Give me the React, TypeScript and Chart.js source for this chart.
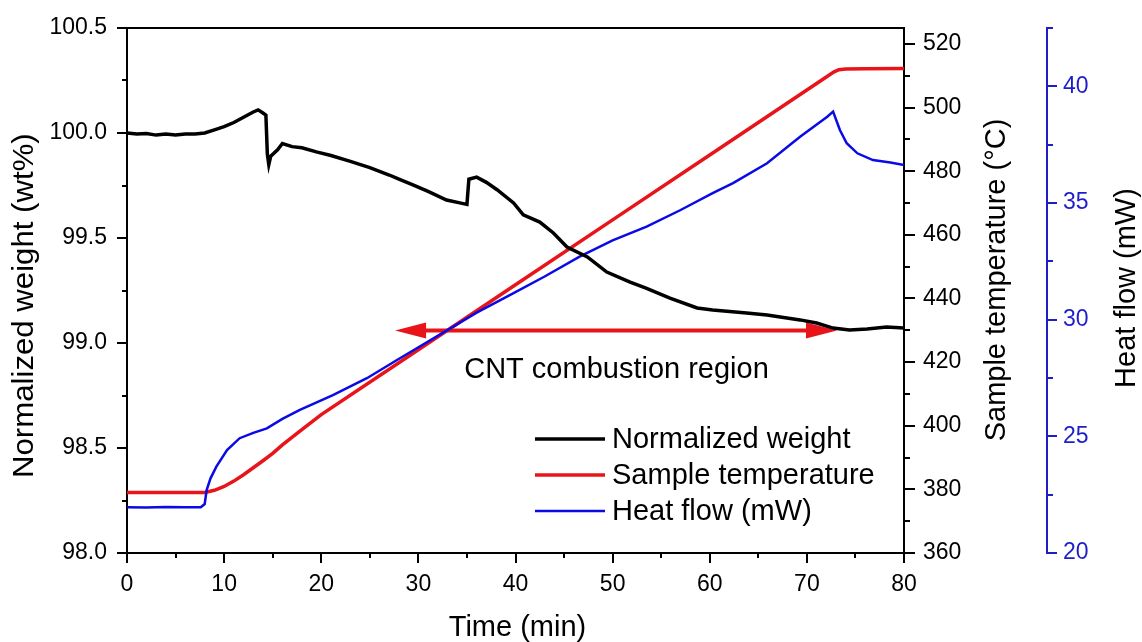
import React, { useEffect, useRef } from 'react';
import { Chart, registerables } from 'chart.js';

Chart.register(...registerables);

const FONT = '"Liberation Sans", Arial, Helvetica, sans-serif';

// ---- data ----
const timeWeight = [0, 1, 2, 3, 4, 5, 6, 7, 8, 9, 10, 11, 12, 13, 13.5, 14.0, 14.3, 14.45, 14.6, 14.8, 15.5, 16, 17, 18, 19.5, 21, 23, 25, 27, 28, 29.5, 31, 32.9, 34.5, 35.0, 35.2, 36.0, 37, 38.1, 39.8, 40.8, 42.5, 43.9, 45.3, 47.4, 49.4, 51.8, 53.5, 55.9, 58.7, 60.3, 63.8, 65.9, 69.3, 71.0, 72.7, 74.4, 76.2, 78.2, 80];
const weightValues = [100.0, 99.995, 99.998, 99.99, 99.995, 99.99, 99.995, 99.995, 100.0, 100.015, 100.03, 100.05, 100.075, 100.1, 100.11, 100.095, 100.085, 99.9, 99.85, 99.89, 99.92, 99.95, 99.935, 99.93, 99.91, 99.893, 99.865, 99.835, 99.8, 99.78, 99.752, 99.722, 99.681, 99.665, 99.66, 99.78, 99.79, 99.765, 99.73, 99.667, 99.61, 99.576, 99.524, 99.457, 99.41, 99.338, 99.29, 99.26, 99.214, 99.167, 99.157, 99.143, 99.133, 99.11, 99.095, 99.071, 99.062, 99.067, 99.076, 99.071];

const timeTemp = [0, 4, 8, 9, 10, 11, 12, 13, 14, 15, 16, 18, 20, 30, 40, 50, 60, 70, 72, 72.8, 73.3, 74, 76, 80];
const tempValues = [379, 379, 379, 379.7, 380.9, 382.6, 384.6, 386.8, 389.0, 391.3, 394.0, 398.8, 403.5, 423.9, 444.3, 464.7, 485.1, 505.5, 509.6, 511.2, 511.9, 512.1, 512.2, 512.3];

const timeHeat = [0, 2, 4, 6, 7.6, 8.0, 8.2, 8.6, 9.2, 10.3, 11.6, 13, 14.4, 16, 17.8, 21.2, 24.7, 27.8, 32.9, 36, 39.8, 43, 46.6, 50, 53.5, 57, 60.3, 62.4, 65.9, 69.3, 72.1, 72.7, 73.4, 74.1, 75.2, 76.8, 78.6, 80];
const heatValues = [21.96, 21.95, 21.97, 21.96, 21.96, 22.1, 22.7, 23.2, 23.7, 24.41, 24.92, 25.15, 25.34, 25.75, 26.13, 26.77, 27.49, 28.27, 29.53, 30.3, 31.14, 31.85, 32.7, 33.4, 33.99, 34.7, 35.42, 35.85, 36.7, 37.84, 38.7, 38.92, 38.13, 37.56, 37.13, 36.84, 36.74, 36.63];

// ---- axes ----
const xRange = [0, 80];
const weightRange = [98, 100.5];
const tempRange = [360, 525];
const heatRange = [20, 42.5];
const xMinorTicks = [5, 15, 25, 35, 45, 55, 65, 75];
const weightMinorTicks = [98.25, 98.75, 99.25, 99.75, 100.25];
const tempMinorTicks = [370, 390, 410, 430, 450, 470, 490, 510];
const heatMinorTicks = [22.5, 27.5, 32.5, 37.5, 42.5];

// ---- labels / annotation ----
const seriesNames = ['Normalized weight', 'Sample temperature', 'Heat flow (mW)'];
const xTitle = 'Time (min)';
const weightTitle = 'Normalized weight (wt%)';
const tempTitle = 'Sample temperature (°C)';
const heatTitle = 'Heat flow (mW)';
const arrowFrom = 27.6;
const arrowTo = 73.1;
const arrowLevel = 99.059;
const annotationText = 'CNT combustion region';
const annotationX = 50.4;
const annotationLevel = 98.833;

const BLACK = '#000000';
const RED = '#e8141a';
const BLUE = '#0a0ae6';
const AXIS_BLUE = '#1e1ec8';

function toPoints(xs: number[], ys: number[]) {
  return xs.map((x, i) => ({ x, y: ys[i] }));
}

const decorPlugin = {
  id: 'decor',
  beforeDatasetsDraw(chart: any) {
    const { ctx, scales } = chart;
    const xs = scales.x;
    const ys = scales.y;
    const y = ys.getPixelForValue(arrowLevel);
    const x1 = xs.getPixelForValue(arrowFrom);
    const x2 = xs.getPixelForValue(arrowTo);
    const headL = 31;
    const headW = 8;
    ctx.save();
    ctx.strokeStyle = RED;
    ctx.fillStyle = RED;
    ctx.lineWidth = 4;
    ctx.beginPath();
    ctx.moveTo(x1 + headL - 2, y);
    ctx.lineTo(x2 - headL + 2, y);
    ctx.stroke();
    ctx.beginPath();
    ctx.moveTo(x1, y);
    ctx.lineTo(x1 + headL, y - headW);
    ctx.lineTo(x1 + headL, y + headW);
    ctx.closePath();
    ctx.fill();
    ctx.beginPath();
    ctx.moveTo(x2, y);
    ctx.lineTo(x2 - headL, y - headW);
    ctx.lineTo(x2 - headL, y + headW);
    ctx.closePath();
    ctx.fill();
    ctx.restore();
  },
  afterDraw(chart: any) {
    const { ctx, scales, chartArea } = chart;
    const xs = scales.x;
    const ys = scales.y;
    const ts = scales.y1;
    const hs = scales.y2;
    ctx.save();
    // top frame
    ctx.strokeStyle = BLACK;
    ctx.lineWidth = 2;
    ctx.beginPath();
    ctx.moveTo(chartArea.left, chartArea.top);
    ctx.lineTo(chartArea.right, chartArea.top);
    ctx.stroke();
    // minor ticks
    ctx.beginPath();
    for (const v of xMinorTicks) {
      const p = Math.round(xs.getPixelForValue(v));
      ctx.moveTo(p, chartArea.bottom);
      ctx.lineTo(p, chartArea.bottom + 5);
    }
    for (const v of weightMinorTicks) {
      const p = Math.round(ys.getPixelForValue(v));
      ctx.moveTo(chartArea.left - 5, p);
      ctx.lineTo(chartArea.left, p);
    }
    for (const v of tempMinorTicks) {
      const p = Math.round(ts.getPixelForValue(v));
      ctx.moveTo(chartArea.right, p);
      ctx.lineTo(chartArea.right + 6, p);
    }
    ctx.stroke();
    ctx.strokeStyle = AXIS_BLUE;
    ctx.beginPath();
    for (const v of heatMinorTicks) {
      const p = Math.round(hs.getPixelForValue(v));
      ctx.moveTo(hs.left, p);
      ctx.lineTo(hs.left + 6, p);
    }
    ctx.stroke();

    // titles
    ctx.fillStyle = BLACK;
    ctx.font = `29px ${FONT}`;
    ctx.textBaseline = 'alphabetic';
    ctx.textAlign = 'center';
    ctx.fillText(xTitle, (chartArea.left + chartArea.right) / 2 + 2, 636);

    ctx.save();
    ctx.translate(33, 478);
    ctx.rotate(-Math.PI / 2);
    ctx.scale(1.075, 1);
    ctx.textAlign = 'left';
    ctx.fillText(weightTitle, 0, 0);
    ctx.restore();

    ctx.save();
    ctx.translate(1005, 280);
    ctx.rotate(-Math.PI / 2);
    ctx.textAlign = 'center';
    ctx.fillText(tempTitle, 0, 0);
    ctx.restore();

    ctx.save();
    ctx.translate(1135, 288);
    ctx.rotate(-Math.PI / 2);
    ctx.textAlign = 'center';
    ctx.fillText(heatTitle, 0, 0);
    ctx.restore();

    // annotation text
    ctx.font = `29px ${FONT}`;
    ctx.textAlign = 'center';
    ctx.fillText(annotationText, xs.getPixelForValue(annotationX), ys.getPixelForValue(annotationLevel));

    // legend
    const colors = [BLACK, RED, BLUE];
    const widths = [3.5, 3.5, 2.5];
    const rows = [439, 475, 511];
    ctx.textAlign = 'left';
    ctx.textBaseline = 'middle';
    seriesNames.forEach((name, i) => {
      ctx.strokeStyle = colors[i];
      ctx.lineWidth = widths[i];
      ctx.beginPath();
      ctx.moveTo(535, rows[i]);
      ctx.lineTo(605, rows[i]);
      ctx.stroke();
      ctx.fillStyle = BLACK;
      ctx.fillText(name, 612, rows[i] + 1);
    });
    ctx.restore();
  },
};

export default function App() {
  const ref = useRef<HTMLCanvasElement | null>(null);
  useEffect(() => {
    document.body.style.margin = '0';
    const canvas = ref.current;
    if (!canvas) return;
    const tickFont = { family: FONT, size: 23 };
    const grid = (color: string, len: number) => ({
      drawOnChartArea: false,
      drawTicks: true,
      tickLength: len,
      tickWidth: 2,
      tickColor: color,
      color,
      lineWidth: 2,
    });
    const chart = new Chart(canvas, {
      type: 'line',
      data: {
        datasets: [
          {
            label: seriesNames[0],
            data: toPoints(timeWeight, weightValues),
            borderColor: BLACK,
            borderWidth: 3.5,
            yAxisID: 'y',
            order: 0,
          },
          {
            label: seriesNames[1],
            data: toPoints(timeTemp, tempValues),
            borderColor: RED,
            borderWidth: 3.5,
            yAxisID: 'y1',
            order: 2,
          },
          {
            label: seriesNames[2],
            data: toPoints(timeHeat, heatValues),
            borderColor: BLUE,
            borderWidth: 2.5,
            yAxisID: 'y2',
            order: 1,
          },
        ],
      },
      options: {
        animation: false,
        responsive: false,
        maintainAspectRatio: false,
        layout: { padding: { top: 28, left: 0, right: 0, bottom: 0 } },
        elements: { point: { radius: 0 }, line: { tension: 0, fill: false } },
        plugins: { legend: { display: false }, tooltip: { enabled: false } },
        scales: {
          x: {
            type: 'linear',
            position: 'bottom',
            min: xRange[0],
            max: xRange[1],
            grid: grid(BLACK, 10),
            border: { display: true, color: BLACK, width: 2 },
            ticks: { stepSize: 10, font: tickFont, color: BLACK, padding: 8, maxRotation: 0 },
            afterFit: (s: any) => { s.height = 89; },
          },
          y: {
            type: 'linear',
            position: 'left',
            min: weightRange[0],
            max: weightRange[1],
            grid: grid(BLACK, 10),
            border: { display: true, color: BLACK, width: 2 },
            ticks: { stepSize: 0.5, font: tickFont, color: BLACK, padding: 10, callback: (v: any) => Number(v).toFixed(1) },
            afterFit: (s: any) => { s.width = 127; },
          },
          y1: {
            type: 'linear',
            position: 'right',
            weight: 1,
            min: tempRange[0],
            max: tempRange[1],
            grid: grid(BLACK, 11),
            border: { display: true, color: BLACK, width: 2 },
            ticks: { stepSize: 20, includeBounds: false, font: tickFont, color: BLACK, padding: 8 },
            afterFit: (s: any) => { s.width = 143; },
          },
          y2: {
            type: 'linear',
            position: 'right',
            weight: 2,
            min: heatRange[0],
            max: heatRange[1],
            grid: grid(AXIS_BLUE, 10),
            border: { display: true, color: AXIS_BLUE, width: 2 },
            ticks: { stepSize: 5, includeBounds: false, font: tickFont, color: AXIS_BLUE, padding: 6 },
            afterFit: (s: any) => { s.width = 95; },
          },
        },
      } as any,
      plugins: [decorPlugin],
    });
    return () => chart.destroy();
  }, []);
  return <canvas ref={ref} width={1142} height={642} style={{ display: 'block' }} />;
}
